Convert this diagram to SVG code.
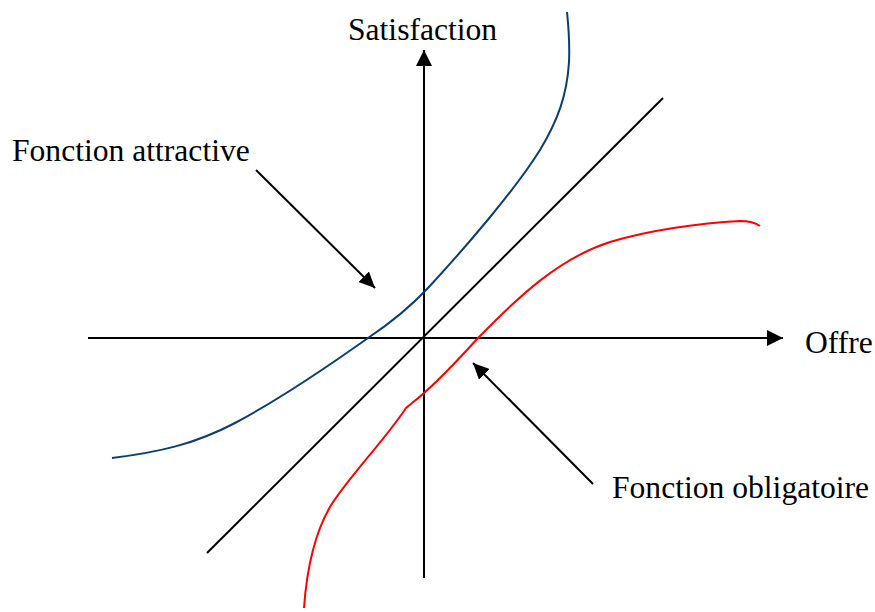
<svg xmlns="http://www.w3.org/2000/svg" width="875" height="612" viewBox="0 0 875 612">
<defs>
<style>
.ax{stroke:#000;stroke-width:2;fill:none}
.lbl{font-family:"Liberation Serif","Times New Roman",serif;font-size:31.6px;fill:#000}
.blue{stroke:#0b3e6f;stroke-width:2;fill:none}
.red{stroke:#ff0000;stroke-width:2;fill:none}
</style>
<marker id="ah" markerUnits="userSpaceOnUse" markerWidth="16" markerHeight="16" refX="16" refY="8" orient="auto">
<path d="M0,0 L16,8 L0,16 z" fill="#000"/>
</marker>
<marker id="ah2" markerUnits="userSpaceOnUse" markerWidth="16" markerHeight="15" refX="16" refY="7.5" orient="auto">
<path d="M0,0 L16,7.5 L0,15 z" fill="#000"/>
</marker>
</defs>
<rect width="875" height="612" fill="#fff"/>
<g id="connectors">
<line id="y-axis" class="ax" x1="424" y1="578" x2="424" y2="50" marker-end="url(#ah)"/>
<line id="x-axis" class="ax" x1="88" y1="338" x2="783" y2="338" marker-end="url(#ah)"/>
<line id="diagonal" class="ax" x1="207" y1="553" x2="663" y2="98"/>
<line id="arrow-attractive" class="ax" x1="256" y1="170" x2="375" y2="288" marker-end="url(#ah2)"/>
<line id="arrow-obligatoire" class="ax" x1="593" y1="484" x2="473" y2="363" marker-end="url(#ah2)"/>
</g>
<g id="curve-attractive">
<path class="blue" d="M112,458 C160,452 195,444 235,423 C280,399 330,365 368,338 C395,320 413,304 428,288 C465,248 515,190 540,150 C558,120 567,95 569,62 C570,40 568,22 567,12"/>
</g>
<g id="curve-obligatoire">
<path class="red" d="M304,608 C306,580 312,538 330,507 C346,480 385,440 406,408 L412,403 C432,388 458,360 478,338 C520,295 560,258 610,242 C650,230 700,223 740,221 C750,221 756,223 760,226"/>
</g>
<g id="label-satisfaction"><text class="lbl" x="348" y="40">Satisfaction</text></g>
<g id="label-offre"><text class="lbl" x="805" y="353">Offre</text></g>
<g id="label-attractive"><text class="lbl" x="12" y="161">Fonction attractive</text></g>
<g id="label-obligatoire"><text class="lbl" x="612" y="498">Fonction obligatoire</text></g>
</svg>
